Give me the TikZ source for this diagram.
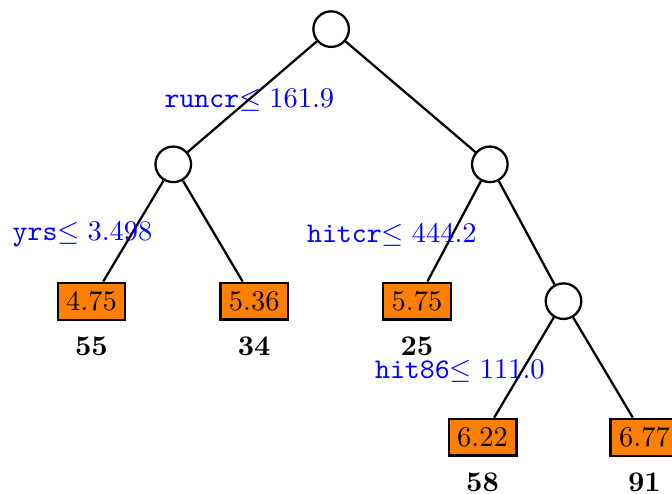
\documentclass[tikz,border=0pt]{standalone}
\usepackage{amsmath}
\usepackage{amssymb}
\usepackage{tikz}
\usetikzlibrary{
	positioning
}
\usepackage{xcolor}

\begin{document}
\begin{tikzpicture}[
		split/.style={circle, draw, thick, minimum size=12.5pt, inner sep=0pt},
		leaf/.style={rectangle, draw, thick, fill=orange, inner sep=3pt},
		count/.style={font=\bfseries, inner sep=1pt},
		rule/.style={text=blue, inner sep=1pt},
		branch/.style={thick}
	]
		
		\useasboundingbox (0,0) rectangle (8.3,6.1);
		
		% Splits
		\node[split] (root) at (4.09,5.74) {};
		\node[split] (runs) at (2.14,4.07) {};
		\node[split] (hits) at (6.05,4.07) {};
		\node[split] (h86) at (6.96,2.38) {};
		
		% Leaves
		\node[leaf] (la) at (1.13,2.38) {4.75};
		\node[leaf] (lb) at (3.14,2.38) {5.36};
		\node[leaf] (lc) at (5.15,2.38) {5.75};
		\node[leaf] (ld) at (5.96,0.70) {6.22};
		\node[leaf] (le) at (7.96,0.70) {6.77};
		
		% Sizes
		\node[count, below=4.5pt of la] {55};
		\node[count, below=4.5pt of lb] {34};
		\node[count, below=4.5pt of lc] {25};
		\node[count, below=4.5pt of ld] {58};
		\node[count, below=4.5pt of le] {91};
		
		% Branches
		\draw[branch] (root) -- (runs);
		\draw[branch] (root) -- (hits);
		\draw[branch] (runs) -- (la);
		\draw[branch] (runs) -- (lb);
		\draw[branch] (hits) -- (lc);
		\draw[branch] (hits) -- (h86);
		\draw[branch] (h86) -- (ld);
		\draw[branch] (h86) -- (le);
		
		% Rules
		\node[rule] at (3.08,4.86) {\texttt{runcr}$\leq 161.9$};
		\node[rule] at (1.02,3.20) {\texttt{yrs}$\leq 3.498$};
		\node[rule] at (4.84,3.20) {\texttt{hitcr}$\leq 444.2$};
		\node[rule] at (5.68,1.52) {\texttt{hit86}$\leq 111.0$};
		
	\end{tikzpicture}
\end{document}
